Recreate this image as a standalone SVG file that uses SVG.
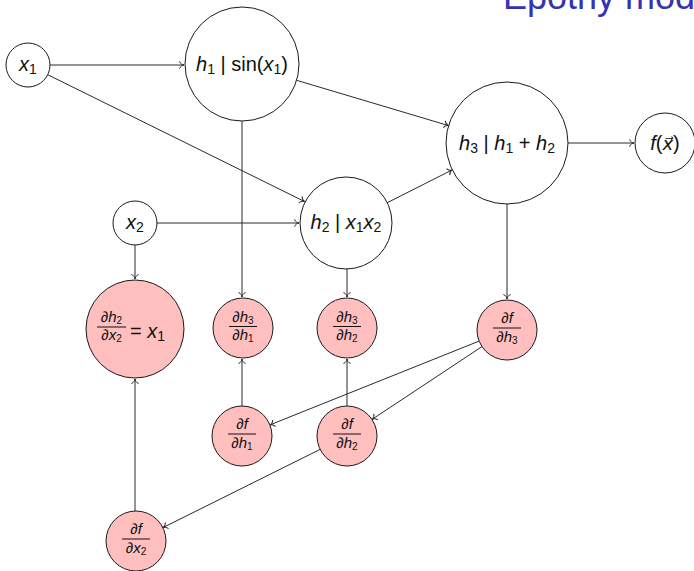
<svg xmlns="http://www.w3.org/2000/svg" width="694" height="571" viewBox="0 0 694 571">
  <style>
    .node { fill: #ffffff; stroke: #1a1a1a; stroke-width: 1; }
    .grad { fill: #ffbfbf; stroke: #1a1a1a; stroke-width: 1; }
    .edge { fill: none; stroke: #2a2a2a; stroke-width: 1; marker-end: url(#tip); }
    text { font-family: "Liberation Sans", "DejaVu Sans", sans-serif; fill: #111111; }
    .lbl { font-size: 20px; }
    .frac { font-size: 15px; }
    .it { font-style: italic; }
    .bar { stroke: #111111; stroke-width: 1; }
    .title { font-size: 36px; fill: #3333b3; }
  </style>
  <defs>
    <marker id="tip" markerUnits="userSpaceOnUse" markerWidth="12" markerHeight="12" viewBox="-6 -6 12 12" refX="0" refY="0" orient="auto">
      <path d="M -4.5,-3.6 C -3.8,-1.3 -1.6,-0.3 0,0 C -1.6,0.3 -3.8,1.3 -4.5,3.6" fill="none" stroke="#2a2a2a" stroke-width="1"/>
    </marker>
  </defs>

  <rect width="694" height="571" fill="#ffffff"/>

  <!-- slide title, running off the top edge -->
  <text class="title" x="503" y="9">Epothy mod</text>

  <!-- connectors -->
  <g id="edges">
    <line class="edge" x1="50" y1="65" x2="184" y2="65"/>
    <line class="edge" x1="47.7" y1="74.7" x2="304.7" y2="201.6"/>
    <line class="edge" x1="296.6" y1="80.3" x2="448.6" y2="125.6"/>
    <line class="edge" x1="387.3" y1="202.7" x2="452.2" y2="169.9"/>
    <line class="edge" x1="568" y1="143" x2="634" y2="143"/>
    <line class="edge" x1="157" y1="223" x2="299" y2="223"/>
    <line class="edge" x1="135" y1="245" x2="135" y2="279"/>
    <line class="edge" x1="242" y1="121" x2="242" y2="297"/>
    <line class="edge" x1="347" y1="269" x2="347" y2="297"/>
    <line class="edge" x1="507" y1="204" x2="507" y2="299"/>
    <line class="edge" x1="479.1" y1="341.1" x2="269.9" y2="424.9"/>
    <line class="edge" x1="482" y1="346.6" x2="372" y2="419.4"/>
    <line class="edge" x1="242" y1="406" x2="242" y2="359"/>
    <line class="edge" x1="347" y1="406" x2="347" y2="359"/>
    <line class="edge" x1="320.1" y1="449.4" x2="162.9" y2="527.6"/>
    <line class="edge" x1="135" y1="511" x2="135" y2="379"/>
  </g>

  <!-- forward pass nodes -->
  <g id="x1">
    <circle class="node" cx="28" cy="65" r="22"/>
    <text class="lbl" x="28" y="71" text-anchor="middle"><tspan class="it">x</tspan><tspan font-size="14" dy="3">1</tspan></text>
  </g>
  <g id="h1">
    <circle class="node" cx="242" cy="64" r="57"/>
    <text class="lbl" x="242" y="71" text-anchor="middle"><tspan class="it">h</tspan><tspan font-size="14" dy="3">1</tspan><tspan dy="-3"> | sin(</tspan><tspan class="it">x</tspan><tspan font-size="14" dy="3">1</tspan><tspan dy="-3">)</tspan></text>
  </g>
  <g id="x2">
    <circle class="node" cx="135" cy="223" r="22"/>
    <text class="lbl" x="135" y="229" text-anchor="middle"><tspan class="it">x</tspan><tspan font-size="14" dy="3">2</tspan></text>
  </g>
  <g id="h2">
    <circle class="node" cx="346" cy="223" r="46"/>
    <text class="lbl" x="346" y="229" text-anchor="middle"><tspan class="it">h</tspan><tspan font-size="14" dy="3">2</tspan><tspan dy="-3"> | </tspan><tspan class="it">x</tspan><tspan font-size="14" dy="3">1</tspan><tspan class="it" dy="-3">x</tspan><tspan font-size="14" dy="3">2</tspan></text>
  </g>
  <g id="h3">
    <circle class="node" cx="507" cy="143" r="61"/>
    <text class="lbl" x="507" y="150" text-anchor="middle"><tspan class="it">h</tspan><tspan font-size="14" dy="3">3</tspan><tspan dy="-3"> | </tspan><tspan class="it">h</tspan><tspan font-size="14" dy="3">1</tspan><tspan dy="-3"> + </tspan><tspan class="it">h</tspan><tspan font-size="14" dy="3">2</tspan></text>
  </g>
  <g id="f">
    <circle class="node" cx="665" cy="143" r="30"/>
    <text class="lbl" x="665" y="150" text-anchor="middle"><tspan class="it">f</tspan>(<tspan class="it" font-family="DejaVu Sans, sans-serif" font-size="18">x⃗</tspan>)</text>
  </g>

  <!-- backward pass (gradient) nodes -->
  <g id="dh2dx2">
    <circle class="grad" cx="135" cy="329" r="49"/>
    <text class="frac" x="111.5" y="322" text-anchor="middle">∂<tspan class="it">h</tspan><tspan font-size="10" dy="2">2</tspan></text>
    <line class="bar" x1="97" y1="327" x2="126" y2="327"/>
    <text class="frac" x="111.5" y="340" text-anchor="middle">∂<tspan class="it">x</tspan><tspan font-size="10" dy="2">2</tspan></text>
    <text class="lbl" x="130" y="338">= <tspan class="it">x</tspan><tspan font-size="14" dy="3">1</tspan></text>
  </g>
  <g id="dh3dh1">
    <circle class="grad" cx="243" cy="328" r="30"/>
    <text class="frac" x="243" y="322" text-anchor="middle">∂<tspan class="it">h</tspan><tspan font-size="10" dy="2">3</tspan></text>
    <line class="bar" x1="229" y1="326.5" x2="257" y2="326.5"/>
    <text class="frac" x="243" y="340" text-anchor="middle">∂<tspan class="it">h</tspan><tspan font-size="10" dy="2">1</tspan></text>
  </g>
  <g id="dh3dh2">
    <circle class="grad" cx="347" cy="328" r="30"/>
    <text class="frac" x="347" y="322" text-anchor="middle">∂<tspan class="it">h</tspan><tspan font-size="10" dy="2">3</tspan></text>
    <line class="bar" x1="333" y1="326.5" x2="361" y2="326.5"/>
    <text class="frac" x="347" y="340" text-anchor="middle">∂<tspan class="it">h</tspan><tspan font-size="10" dy="2">2</tspan></text>
  </g>
  <g id="dfdh3">
    <circle class="grad" cx="507" cy="330" r="30"/>
    <text class="frac" x="507" y="323" text-anchor="middle">∂<tspan class="it">f</tspan></text>
    <line class="bar" x1="493" y1="328" x2="521" y2="328"/>
    <text class="frac" x="507" y="342" text-anchor="middle">∂<tspan class="it">h</tspan><tspan font-size="10" dy="2">3</tspan></text>
  </g>
  <g id="dfdh1">
    <circle class="grad" cx="242" cy="436" r="30"/>
    <text class="frac" x="242" y="429" text-anchor="middle">∂<tspan class="it">f</tspan></text>
    <line class="bar" x1="228" y1="434" x2="256" y2="434"/>
    <text class="frac" x="242" y="448" text-anchor="middle">∂<tspan class="it">h</tspan><tspan font-size="10" dy="2">1</tspan></text>
  </g>
  <g id="dfdh2">
    <circle class="grad" cx="347" cy="436" r="30"/>
    <text class="frac" x="347" y="429" text-anchor="middle">∂<tspan class="it">f</tspan></text>
    <line class="bar" x1="333" y1="434" x2="361" y2="434"/>
    <text class="frac" x="347" y="448" text-anchor="middle">∂<tspan class="it">h</tspan><tspan font-size="10" dy="2">2</tspan></text>
  </g>
  <g id="dfdx2">
    <circle class="grad" cx="136" cy="541" r="30"/>
    <text class="frac" x="136" y="534" text-anchor="middle">∂<tspan class="it">f</tspan></text>
    <line class="bar" x1="122" y1="539" x2="150" y2="539"/>
    <text class="frac" x="136" y="553" text-anchor="middle">∂<tspan class="it">x</tspan><tspan font-size="10" dy="2">2</tspan></text>
  </g>
</svg>
